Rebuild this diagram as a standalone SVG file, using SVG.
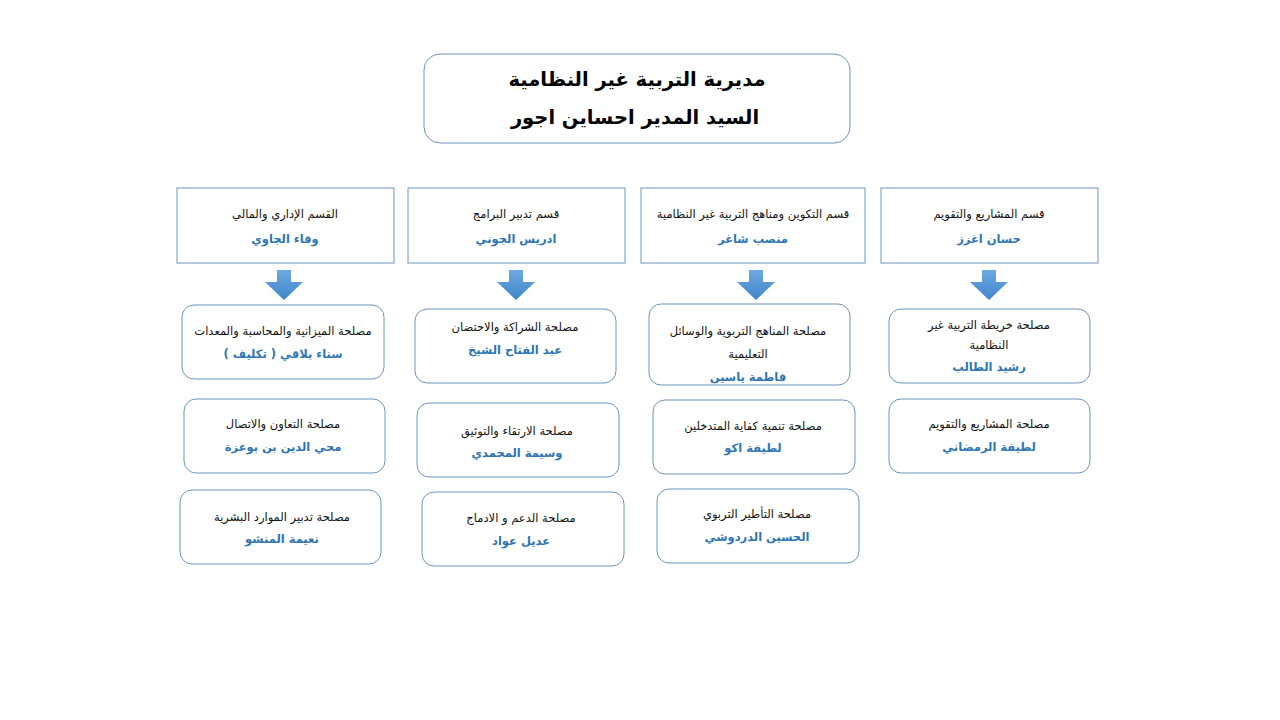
<svg xmlns="http://www.w3.org/2000/svg" width="1280" height="720" viewBox="0 0 1280 720">
<defs>
<linearGradient id="ag" x1="0" y1="0" x2="0" y2="1">
<stop offset="0" stop-color="#6fa8e0"/>
<stop offset="1" stop-color="#3f86cc"/>
</linearGradient>
<style>
.t{font-family:"DejaVu Sans","Noto Sans",sans-serif;text-anchor:middle;direction:rtl}
.h{font-size:19.5px;font-weight:bold;fill:#000}
.l{font-size:11.5px;fill:#111}
.n{font-size:11.5px;font-weight:bold;fill:#2e75b6}
.dept{fill:#fff;stroke:#6c95bf;stroke-width:1}
.svc{fill:#fff;stroke:#6c95bf;stroke-width:1}
.arr{fill:url(#ag)}
</style>
</defs>
<rect width="1280" height="720" fill="#fff"/>
<g id="director">
<rect x="424" y="54" width="426" height="89" rx="16" class="svc"/>
<text class="t h" x="637" y="86">مديرية التربية غير النظامية</text>
<text class="t h" x="635" y="124">السيد المدير احساين اجور</text>
</g>
<g id="dept1">
<rect x="177" y="188" width="217" height="75" class="dept"/>
<text class="t l" x="285" y="218">القسم الإداري والمالي</text>
<text class="t n" x="285" y="243">وفاء الجاوي</text>
</g>
<g id="dept2">
<rect x="408" y="188" width="217" height="75" class="dept"/>
<text class="t l" x="516" y="218">قسم تدبير البرامج</text>
<text class="t n" x="516" y="243">ادريس الجوني</text>
</g>
<g id="dept3">
<rect x="641" y="188" width="224" height="75" class="dept"/>
<text class="t l" x="753" y="218">قسم التكوين ومناهج التربية غير النظامية</text>
<text class="t n" x="753" y="243">منصب شاغر</text>
</g>
<g id="dept4">
<rect x="881" y="188" width="217" height="75" class="dept"/>
<text class="t l" x="989" y="218">قسم المشاريع والتقويم</text>
<text class="t n" x="989" y="243">حسان اغزز</text>
</g>
<g id="connectors">
<path class="arr" d="M277 270 H291 V282 H303 L284 300 L265 282 H277 Z"/>
<path class="arr" d="M509 270 H523 V282 H535 L516 300 L497 282 H509 Z"/>
<path class="arr" d="M749 270 H763 V282 H775 L756 300 L737 282 H749 Z"/>
<path class="arr" d="M982 270 H996 V282 H1008 L989 300 L970 282 H982 Z"/>
</g>
<g id="s1a">
<rect x="182" y="305" width="202" height="74" rx="12" class="svc"/>
<text class="t l" x="283" y="335">مصلحة الميزانية والمحاسبة والمعدات</text>
<text class="t n" x="283" y="358">سناء بلاقي ( تكليف )</text>
</g>
<g id="s1b">
<rect x="184" y="399" width="201" height="74" rx="12" class="svc"/>
<text class="t l" x="283" y="428">مصلحة التعاون والاتصال</text>
<text class="t n" x="283" y="451">محي الدين بن بوعزة</text>
</g>
<g id="s1c">
<rect x="180" y="490" width="201" height="74" rx="12" class="svc"/>
<text class="t l" x="282" y="521">مصلحة تدبير الموارد البشرية</text>
<text class="t n" x="282" y="543">نعيمة المنشو</text>
</g>
<g id="s2a">
<rect x="415" y="309" width="201" height="74" rx="12" class="svc"/>
<text class="t l" x="515" y="331">مصلحة الشراكة والاحتضان</text>
<text class="t n" x="515" y="354">عبد الفتاح الشيخ</text>
</g>
<g id="s2b">
<rect x="417" y="403" width="202" height="74" rx="12" class="svc"/>
<text class="t l" x="517" y="435">مصلحة الارتقاء والتوثيق</text>
<text class="t n" x="517" y="457">وسيمة المحمدي</text>
</g>
<g id="s2c">
<rect x="422" y="492" width="202" height="74" rx="12" class="svc"/>
<text class="t l" x="521" y="522">مصلحة الدعم و الادماج</text>
<text class="t n" x="521" y="545">عديل عواد</text>
</g>
<g id="s3a">
<rect x="649" y="304" width="201" height="81" rx="12" class="svc"/>
<text class="t l" x="748" y="335">مصلحة المناهج التربوية والوسائل</text>
<text class="t l" x="748" y="358">التعليمية</text>
<text class="t n" x="748" y="381">فاطمة ياسين</text>
</g>
<g id="s3b">
<rect x="653" y="400" width="202" height="74" rx="12" class="svc"/>
<text class="t l" x="753" y="430">مصلحة تنمية كفاية المتدخلين</text>
<text class="t n" x="753" y="452">لطيفة اكو</text>
</g>
<g id="s3c">
<rect x="657" y="489" width="202" height="74" rx="12" class="svc"/>
<text class="t l" x="757" y="518">مصلحة التأطير التربوي</text>
<text class="t n" x="757" y="541">الحسين الدردوشي</text>
</g>
<g id="s4a">
<rect x="889" y="309" width="201" height="74" rx="12" class="svc"/>
<text class="t l" x="989" y="329">مصلحة خريطة التربية غير</text>
<text class="t l" x="989" y="349">النظامية</text>
<text class="t n" x="989" y="371">رشيد الطالب</text>
</g>
<g id="s4b">
<rect x="889" y="399" width="201" height="74" rx="12" class="svc"/>
<text class="t l" x="989" y="428">مصلحة المشاريع والتقويم</text>
<text class="t n" x="989" y="451">لطيفة الرمضاني</text>
</g>
</svg>
